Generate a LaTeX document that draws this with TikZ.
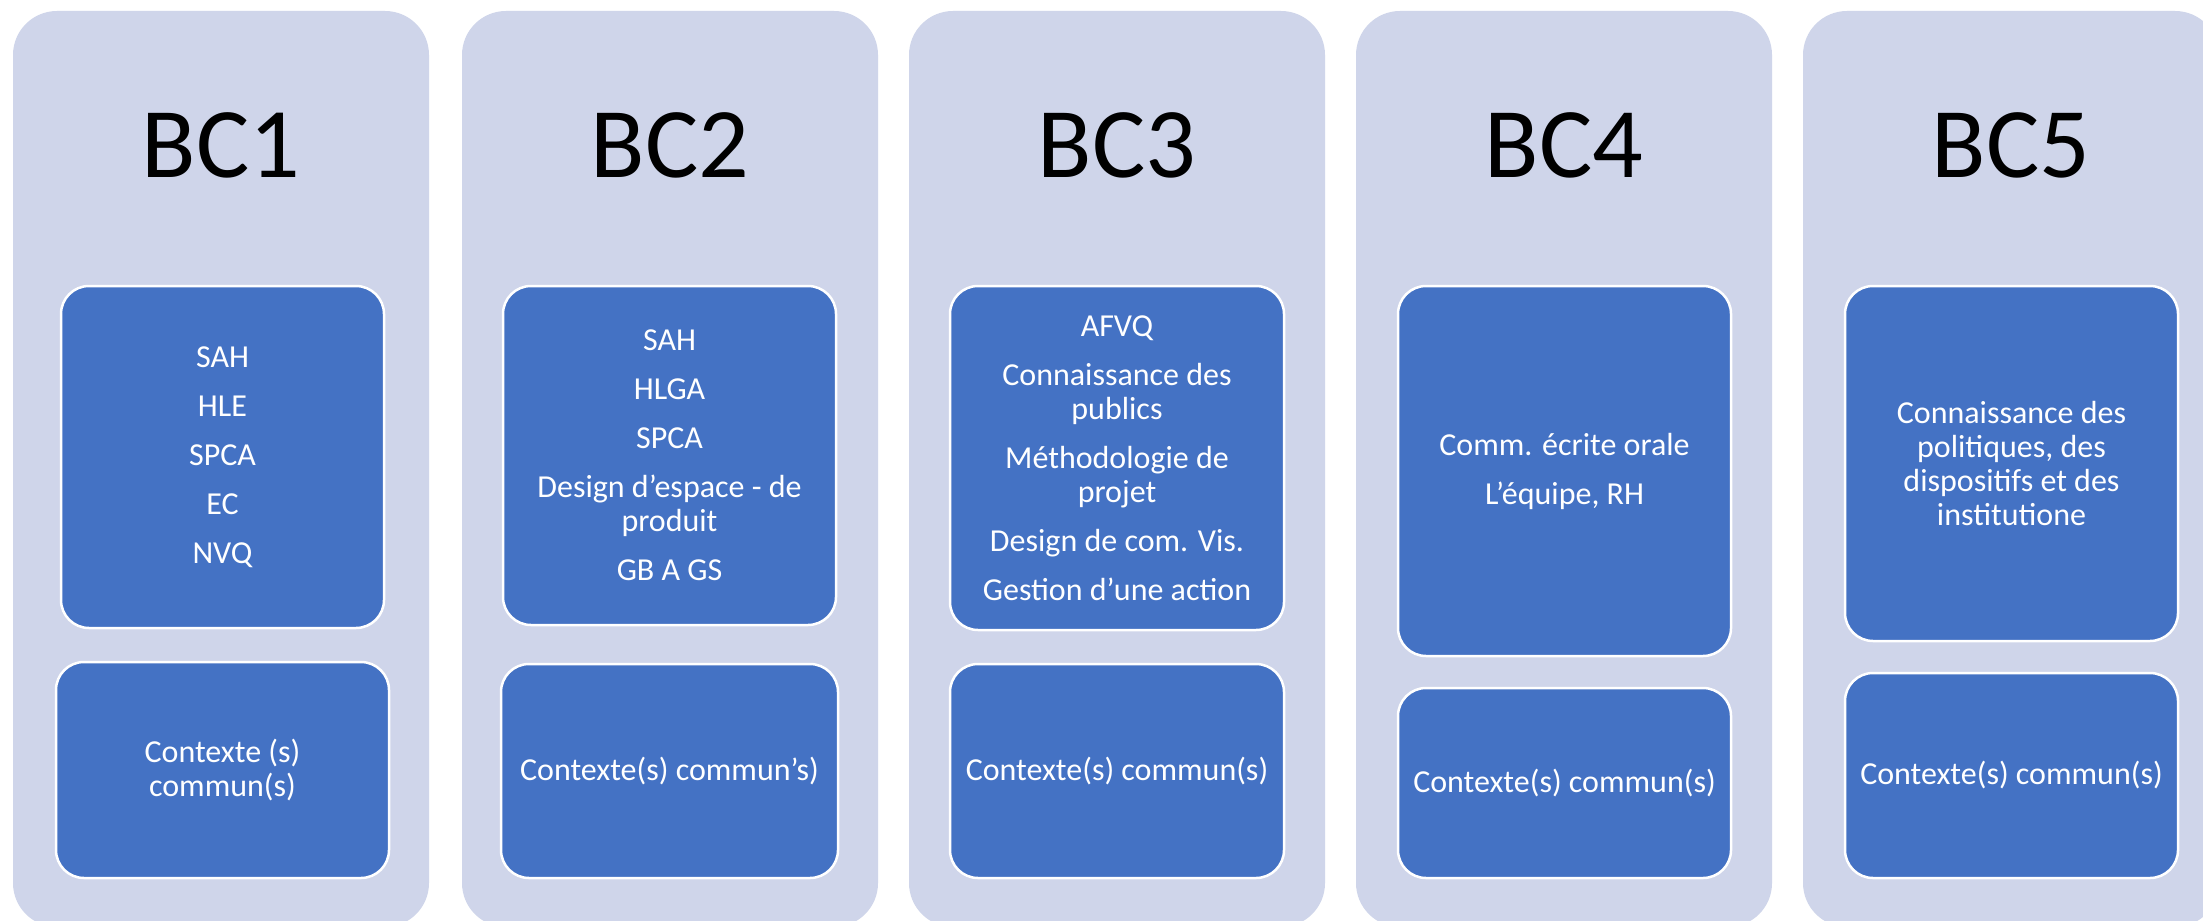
\documentclass[tikz,border=0pt]{standalone}
\usepackage{fontspec}
\setmainfont{Carlito}
\definecolor{outerc}{HTML}{CFD5EA}
\definecolor{innerc}{HTML}{4472C4}
\tikzset{
  outerbox/.style={rectangle, rounded corners=22pt, fill=outerc, minimum width=208pt, minimum height=458pt, inner sep=0pt, outer sep=0pt},
  innerbox/.style={rectangle, rounded corners=14pt, fill=innerc, draw=white, line width=1.25pt, text=white, align=center, inner sep=0pt, font=\fontsize{16}{17}\selectfont},
  titletext/.style={anchor=base, inner sep=0pt, font=\fontsize{50}{60}\selectfont, text=black}
}
\begin{document}
\begin{tikzpicture}[x=0.5pt,y=-0.5pt]
\useasboundingbox (0,0) rectangle (2203,920);
\fill[white] (0,0) rectangle (2203,920);
\clip (0,0) rectangle (2203,920);
% outer columns
\node[outerbox] (o1) at (221,469) {};
\node[outerbox] (o2) at (670,469) {};
\node[outerbox] (o3) at (1117,469) {};
\node[outerbox] (o4) at (1564,469) {};
\node[outerbox] (o5) at (2011,469) {};
% titles
\node[titletext] (t1) at (221,177) {BC1};
\node[titletext] (t2) at (670,177) {BC2};
\node[titletext] (t3) at (1117,177) {BC3};
\node[titletext] (t4) at (1564,177) {BC4};
\node[titletext] (t5) at (2011,177) {BC5};
% column 1
\node[innerbox, minimum width=161.5pt, minimum height=171pt] (u1) at (222.5,457)
  {SAH\\[7.5pt]HLE\\[7.5pt]SPCA\\[7.5pt]EC\\[7.5pt]NVQ};
\node[innerbox, minimum width=166.5pt, minimum height=108pt] (l1) at (222.5,770)
  {Contexte (s)\\commun(s)};
% column 2
\node[innerbox, minimum width=166.5pt, minimum height=169.5pt] (u2) at (669.5,455.5)
  {SAH\\[7.5pt]HLGA\\[7.5pt]SPCA\\[7.5pt]Design d’espace - de\\produit\\[7.5pt]GB A GS};
\node[innerbox, minimum width=168.5pt, minimum height=107pt] (l2) at (669.5,771)
  {Contexte(s) commun’s)};
% column 3
\node[innerbox, minimum width=167pt, minimum height=172pt] (u3) at (1117,458)
  {AFVQ\\[7.5pt]Connaissance des\\publics\\[7.5pt]Méthodologie de\\projet\\[7.5pt]Design de com. Vis.\\[7.5pt]Gestion d’une action};
\node[innerbox, minimum width=167pt, minimum height=107pt] (l3) at (1117,771)
  {Contexte(s) commun(s)};
% column 4
\node[innerbox, minimum width=166.5pt, minimum height=185pt] (u4) at (1564.5,471)
  {Comm. écrite orale\\[7.5pt]L’équipe, RH};
\node[innerbox, minimum width=166.5pt, minimum height=95pt] (l4) at (1564.5,783)
  {Contexte(s) commun(s)};
% column 5
\node[innerbox, minimum width=166.5pt, minimum height=177.5pt] (u5) at (2011.5,463.5)
  {Connaissance des\\politiques, des\\dispositifs et des\\institutione};
\node[innerbox, minimum width=166.5pt, minimum height=102.5pt] (l5) at (2011.5,775.5)
  {Contexte(s) commun(s)};
\end{tikzpicture}
\end{document}
